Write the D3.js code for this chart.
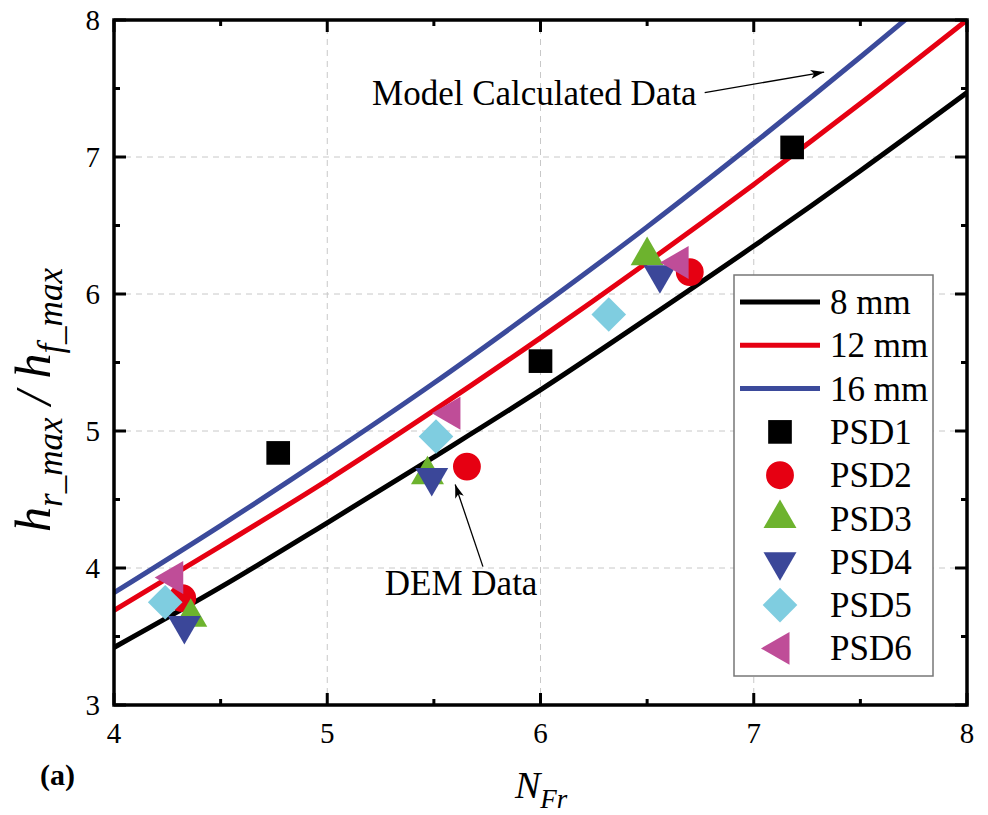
<!DOCTYPE html>
<html>
<head>
<meta charset="utf-8">
<script src="https://cdn.jsdelivr.net/npm/d3@7"></script>
<style>
  body { margin: 0; background: #fff; }
  svg { display: block; font-family: "Liberation Serif", "Times New Roman", serif; }
</style>
</head>
<body>
<div id="graph"></div>
<script>
// model curves
var curveX   = [4, 4.5, 5, 5.5, 6, 6.5, 7, 7.5, 8]
var line8mm  = [3.42, 3.86, 4.33, 4.81, 5.30, 5.82, 6.35, 6.90, 7.47]
var line12mm = [3.69, 4.16, 4.64, 5.15, 5.68, 6.23, 6.80, 7.39, 8.00]
var line16mm = [3.82, 4.31, 4.82, 5.35, 5.91, 6.49, 7.10, 7.73, 8.38]

// DEM points
var psd1 = [[4.77, 4.84], [6.00, 5.51], [7.18, 7.07]]
var psd2 = [[4.32, 3.78], [5.655, 4.74], [6.70, 6.16]]
var psd3 = [[4.36, 3.64], [5.47, 4.68], [6.50, 6.28]]
var psd4 = [[4.33, 3.58], [5.49, 4.66], [6.56, 6.14]]
var psd5 = [[4.24, 3.75], [5.51, 4.96], [6.32, 5.85]]
var psd6 = [[4.28, 3.93], [5.58, 5.13], [6.65, 6.23]]

var xTicks = [4, 5, 6, 7, 8]
var yTicks = [3, 4, 5, 6, 7, 8]

var width = 988, height = 815
var margin = {top: 20, left: 114, right: 20, bottom: 110}

var svg = d3.select("#graph").append("svg")
            .attr("width", width).attr("height", height)

var x = d3.scaleLinear().domain([4, 8]).range([margin.left, 967])
var y = d3.scaleLinear().domain([3, 8]).range([705, margin.top])

svg.append("clipPath").attr("id", "plotClip")
   .append("rect")
   .attr("x", x(4)).attr("y", y(8))
   .attr("width", x(8) - x(4)).attr("height", y(3) - y(8))

// grid
var grid = svg.append("g")
grid.selectAll(".gx").data([5, 6, 7]).enter().append("line")
    .attr("x1", d => x(d)).attr("x2", d => x(d))
    .attr("y1", y(3)).attr("y2", y(8))
    .attr("stroke", "#c8c8c8").attr("stroke-dasharray", "6,5")
grid.selectAll(".gy").data([4, 5, 6, 7]).enter().append("line")
    .attr("y1", d => y(d)).attr("y2", d => y(d))
    .attr("x1", x(4)).attr("x2", x(8))
    .attr("stroke", "#c8c8c8").attr("stroke-dasharray", "6,5")

// model lines
var lineGen = d3.line()
                .x(d => x(d[0]))
                .y(d => y(d[1]))
                .curve(d3.curveMonotoneX)

var models = [
  {name: "8 mm",  values: line8mm,  color: "#000000"},
  {name: "12 mm", values: line12mm, color: "#e60012"},
  {name: "16 mm", values: line16mm, color: "#3b4a9b"}
]

var lineLayer = svg.append("g").attr("clip-path", "url(#plotClip)")
lineLayer.selectAll("path").data(models).enter().append("path")
    .attr("d", d => lineGen(curveX.map((v, i) => [v, d.values[i]])))
    .attr("fill", "none")
    .attr("stroke", d => d.color)
    .attr("stroke-width", 5)

// markers
var tri = d3.symbol().type(d3.symbolTriangle).size(470)
var series = [
  {name: "PSD1", data: psd1, color: "#000000", path: d3.symbol().type(d3.symbolSquare).size(560)(), rot: 0},
  {name: "PSD2", data: psd2, color: "#e60012", path: d3.symbol().type(d3.symbolCircle).size(610)(), rot: 0},
  {name: "PSD3", data: psd3, color: "#6db32e", path: tri(), rot: 0},
  {name: "PSD4", data: psd4, color: "#3b4799", path: tri(), rot: 180},
  {name: "PSD5", data: psd5, color: "#7fcde0", path: d3.symbol().type(d3.symbolSquare).size(600)(), rot: 45},
  {name: "PSD6", data: psd6, color: "#bf4d98", path: tri(), rot: -90}
]

var pointLayer = svg.append("g")
series.forEach(function(s){
  pointLayer.selectAll(".p-" + s.name).data(s.data).enter().append("path")
    .attr("d", s.path)
    .attr("transform", d => "translate(" + [x(d[0]), y(d[1])] + ") rotate(" + s.rot + ")")
    .attr("fill", s.color)
})

// axes with inward ticks on all four sides
var axisG = svg.append("g")
var minorX = [4.5, 5.5, 6.5, 7.5]
var minorY = [3.5, 4.5, 5.5, 6.5, 7.5]

function ticks(vals, len, horizontal){
  vals.forEach(function(v){
    if (horizontal) {
      axisG.append("line").attr("x1", x(v)).attr("x2", x(v)).attr("y1", y(3)).attr("y2", y(3) - len)
      axisG.append("line").attr("x1", x(v)).attr("x2", x(v)).attr("y1", y(8)).attr("y2", y(8) + len)
    } else {
      axisG.append("line").attr("y1", y(v)).attr("y2", y(v)).attr("x1", x(4)).attr("x2", x(4) + len)
      axisG.append("line").attr("y1", y(v)).attr("y2", y(v)).attr("x1", x(8)).attr("x2", x(8) - len)
    }
  })
}
ticks(xTicks, 12, true)
ticks(minorX, 6, true)
ticks(yTicks, 12, false)
ticks(minorY, 6, false)
axisG.selectAll("line").attr("stroke", "#000").attr("stroke-width", 3)

axisG.append("rect")
     .attr("x", x(4)).attr("y", y(8))
     .attr("width", x(8) - x(4)).attr("height", y(3) - y(8))
     .attr("fill", "none").attr("stroke", "#000").attr("stroke-width", 3.5)

// tick labels
svg.append("g").selectAll("text").data(xTicks).enter().append("text")
   .attr("x", d => x(d)).attr("y", 743)
   .attr("text-anchor", "middle").attr("font-size", 29)
   .text(d => d)
svg.append("g").selectAll("text").data(yTicks).enter().append("text")
   .attr("x", 100).attr("y", d => y(d) + 10)
   .attr("text-anchor", "end").attr("font-size", 29)
   .text(d => d)

// axis titles
var xt = svg.append("text").attr("x", 515).attr("y", 798).attr("font-size", 38).attr("font-style", "italic")
xt.append("tspan").text("N")
xt.append("tspan").attr("font-size", 27).attr("dy", 10).text("Fr")

var yt = svg.append("text")
            .attr("transform", "translate(50,400) rotate(-90)")
            .attr("text-anchor", "middle")
            .attr("font-size", 50).attr("font-style", "italic")
yt.append("tspan").text("h")
yt.append("tspan").attr("font-size", 35).attr("dy", 12).text("r_max")
yt.append("tspan").attr("dy", -12).text(" / ")
yt.append("tspan").text("h")
yt.append("tspan").attr("font-size", 35).attr("dy", 12).text("f_max")

svg.append("text").attr("x", 40).attr("y", 785)
   .attr("font-size", 30).attr("font-weight", "bold").text("(a)")

// annotations
svg.append("defs").append("marker")
   .attr("id", "arrow").attr("viewBox", "0 0 12 8")
   .attr("refX", 12).attr("refY", 4)
   .attr("markerWidth", 14).attr("markerHeight", 9)
   .attr("markerUnits", "userSpaceOnUse")
   .attr("orient", "auto")
   .append("path").attr("d", "M0,0 L12,4 L0,8 L3,4 Z").attr("fill", "#000")

var notes = [
  {text: "Model Calculated Data", tx: 5.21, ty: 7.38, from: [6.77, 7.47], to: [7.33, 7.62]},
  {text: "DEM Data", tx: 5.27, ty: 3.80, from: [5.73, 4.01], to: [5.60, 4.61]}
]
notes.forEach(function(n){
  svg.append("text").attr("x", x(n.tx)).attr("y", y(n.ty))
     .attr("font-size", 35).text(n.text)
  svg.append("line")
     .attr("x1", x(n.from[0])).attr("y1", y(n.from[1]))
     .attr("x2", x(n.to[0])).attr("y2", y(n.to[1]))
     .attr("stroke", "#000").attr("stroke-width", 1.3)
     .attr("marker-end", "url(#arrow)")
})

// legend
var legend = svg.append("g").attr("transform", "translate(734,275)")
legend.append("rect").attr("width", 199).attr("height", 401)
      .attr("fill", "#fff").attr("stroke", "#777").attr("stroke-width", 1.5)

var rowH = 43.3
models.forEach(function(m, i){
  var cy = 27 + i * rowH
  legend.append("line").attr("x1", 6).attr("x2", 86).attr("y1", cy).attr("y2", cy)
        .attr("stroke", m.color).attr("stroke-width", 5)
  legend.append("text").attr("x", 96).attr("y", cy + 12).attr("font-size", 35).text(m.name)
})
series.forEach(function(s, i){
  var cy = 27 + (i + 3) * rowH
  legend.append("path").attr("d", s.path)
        .attr("transform", "translate(" + [46, cy] + ") rotate(" + s.rot + ")")
        .attr("fill", s.color)
  legend.append("text").attr("x", 96).attr("y", cy + 12).attr("font-size", 35).text(s.name)
})
</script>
</body>
</html>
